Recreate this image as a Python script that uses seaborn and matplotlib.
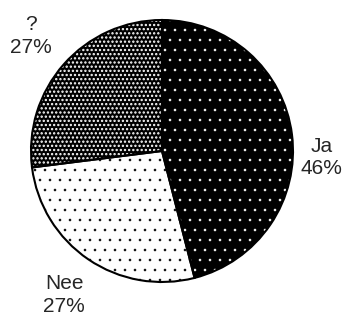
import matplotlib
matplotlib.use('Agg')
import matplotlib.pyplot as plt
from matplotlib.backend_bases import GraphicsContextBase
import numpy as np
import seaborn as sns

# Data
labels = ['Ja', 'Nee', '?']
values = [46, 27, 27]
pct_labels = ['46%', '27%', '27%']

# sparser hatch dot grid for single-dot hatch (styling)
_orig_ghp = GraphicsContextBase.get_hatch_path
def _ghp(self, density=6.0):
    if self.get_hatch() == '.':
        density = 10
    return _orig_ghp(self, density)
GraphicsContextBase.get_hatch_path = _ghp

sns.set_style('white')
plt.rcParams['font.family'] = ['Liberation Sans', 'DejaVu Sans']
plt.rcParams['hatch.linewidth'] = 0.4

fig = plt.figure(figsize=(3.5, 3.22), dpi=100)
ax = fig.add_axes([0, 0, 1, 1])

face = ['black', 'white', 'black']
hcol = ['white', 'black', 'white']
hatches = ['.', '.', '....']
hlw = [0.4, 0.4, 1.1]

wedges, _ = ax.pie(values, startangle=90, counterclock=False)
for w, f, h, hc, lw in zip(wedges, face, hatches, hcol, hlw):
    w.set_facecolor(f)
    w.set_edgecolor(hc)
    w.set_hatch(h)
    w.set_linewidth(0)
    if hasattr(w, 'set_hatch_linewidth'):
        w.set_hatch_linewidth(lw)

ax.pie(values, startangle=90, counterclock=False,
       wedgeprops=dict(fill=False, edgecolor='black', linewidth=1.5))

# label placement (styling)
label_dist = [1.22, 1.33, 1.33]
angle_shift = [-9.5, 0, 0]
for w, lab, pct, d, sh in zip(wedges, labels, pct_labels, label_dist, angle_shift):
    th = np.deg2rad((w.theta1 + w.theta2) / 2 + sh)
    ax.text(d * np.cos(th), d * np.sin(th), f'{lab}\n{pct}', ha='center', va='center',
            multialignment='center', fontsize=15, linespacing=1.25)

R = 131
cx, cy = 162, 151
ax.set_xlim(-cx / R, (350 - cx) / R)
ax.set_ylim(-(322 - cy) / R, cy / R)
ax.axis('off')

fig.savefig('out.png', dpi=100)
